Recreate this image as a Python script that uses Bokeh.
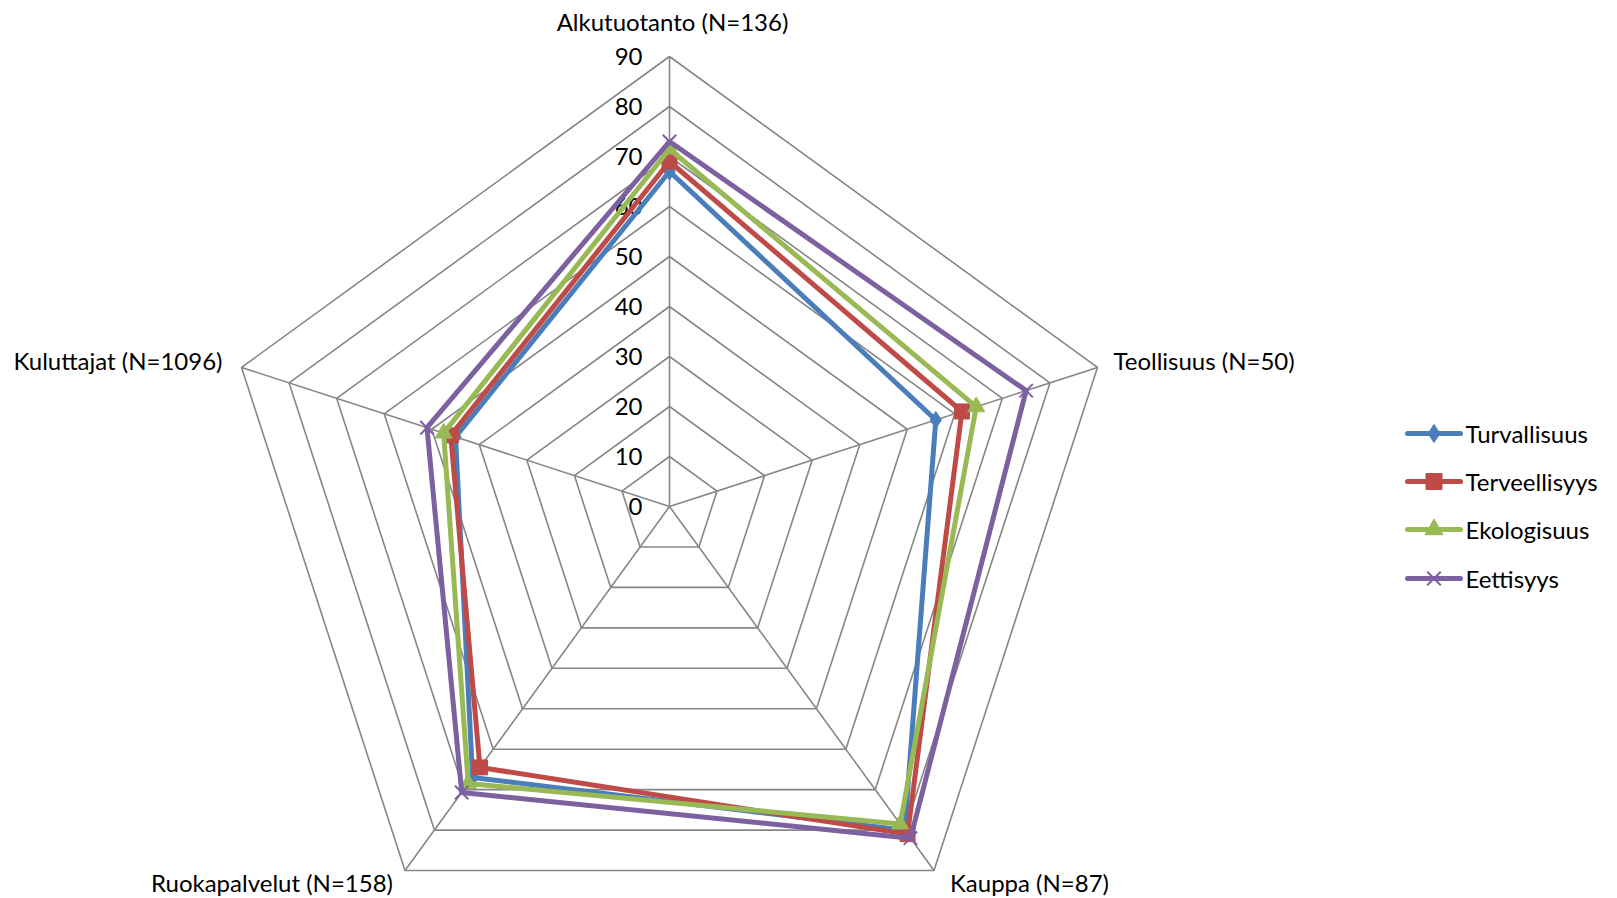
import numpy as np
from bokeh.plotting import figure
from bokeh.models import Range1d
from bokeh.core.properties import value
from bokeh.embed import file_html
from bokeh.resources import INLINE

# ---------------- data ----------------
categories = ["Alkutuotanto (N=136)", "Teollisuus (N=50)", "Kauppa (N=87)",
              "Ruokapalvelut (N=158)", "Kuluttajat (N=1096)"]
series_names = ["Turvallisuus", "Terveellisyys", "Ekologisuus", "Eettisyys"]
turvallisuus = [67, 56, 80, 67, 45]
terveellisyys = [69, 61.5, 81, 64.5, 46]
ekologisuus = [71.5, 64.5, 78.5, 68.5, 47.5]
eettisyys = [73, 75, 82, 70.7, 51]
tick_values = [0, 10, 20, 30, 40, 50, 60, 70, 80, 90]
tick_labels = ["0", "10", "20", "30", "40", "50", "60", "70", "80", "90"]
r_max = 90

series_values = [turvallisuus, terveellisyys, ekologisuus, eettisyys]
colors = ["#4A7EBB", "#BE4B48", "#98B954", "#7D60A0"]
markers = ["diamond", "square", "triangle", "x"]
msizes = [17, 15, 17, 19]

FONT = "Lato"
W, H = 1610, 896
PX = 5.0  # pixels per unit
cx, cy = 669, 506  # center in canvas pixels

angles = np.deg2rad([90, 18, -54, -126, 162])


def polar(vals):
    v = np.asarray(vals, dtype=float)
    return v * np.cos(angles), v * np.sin(angles)


p = figure(width=W, height=H, output_backend="svg", toolbar_location=None,
           x_range=Range1d(-cx / PX, (W - cx) / PX),
           y_range=Range1d(-(H - cy) / PX, cy / PX),
           min_border=0, min_border_left=0, min_border_right=0,
           min_border_top=0, min_border_bottom=0)
p.axis.visible = False
p.grid.visible = False
p.outline_line_color = None
p.background_fill_color = "white"
p.border_fill_color = "white"

grid_color = "#868686"
# rings
for t in tick_values[1:]:
    xs, ys = polar([t] * 5)
    p.line(list(xs) + [xs[0]], list(ys) + [ys[0]], line_color=grid_color, line_width=1.6)
# spokes
xo, yo = polar([r_max] * 5)
for i in range(5):
    p.line([0, xo[i]], [0, yo[i]], line_color=grid_color, line_width=1.6)

# tick labels
p.text(x=[0] * len(tick_values), y=tick_values, text=tick_labels,
       text_font=value(FONT), text_font_size="24px", text_color="#000000",
       text_align="right", text_baseline="middle", x_offset=-27)

# category labels
lab_align = ["center", "left", "left", "right", "right"]
lab_dx = [3, 16, 16, -12, -19]
lab_dy = [-35, -7, 12, 12, -7]
for i in range(5):
    p.text(x=[xo[i]], y=[yo[i]], text=[categories[i]],
           text_font=value(FONT), text_font_size="24px", text_color="#000000",
           text_align=lab_align[i], text_baseline="middle",
           x_offset=lab_dx[i], y_offset=lab_dy[i])

# series
for name, vals, col, mk, ms in zip(series_names, series_values, colors, markers, msizes):
    xs, ys = polar(vals)
    p.line(list(xs) + [xs[0]], list(ys) + [ys[0]], line_color=col, line_width=5,
           line_join="round")
    if mk == "x":
        p.scatter(xs, ys, marker=mk, size=ms, line_color=col, line_width=2)
    else:
        p.scatter(xs, ys, marker=mk, size=ms, fill_color=col, line_color=col)

# legend (manual)
leg_x0, leg_x1 = (1407 - cx) / PX, (1460 - cx) / PX
leg_ys = [(cy - y) / PX for y in [433, 481, 529, 578]]
for name, col, mk, ms, ly in zip(series_names, colors, markers, msizes, leg_ys):
    p.line([leg_x0, leg_x1], [ly, ly], line_color=col, line_width=5, line_cap="round")
    mxc = (leg_x0 + leg_x1) / 2
    if mk == "x":
        p.scatter([mxc], [ly], marker=mk, size=ms, line_color=col, line_width=2)
    else:
        p.scatter([mxc], [ly], marker=mk, size=ms + 1, fill_color=col, line_color=col)
    p.text(x=[leg_x1], y=[ly], text=[name], text_font=value(FONT), text_font_size="24px",
           text_color="#000000", text_align="left", text_baseline="middle", x_offset=5)

open("out.html", "w").write(file_html(p, INLINE))
